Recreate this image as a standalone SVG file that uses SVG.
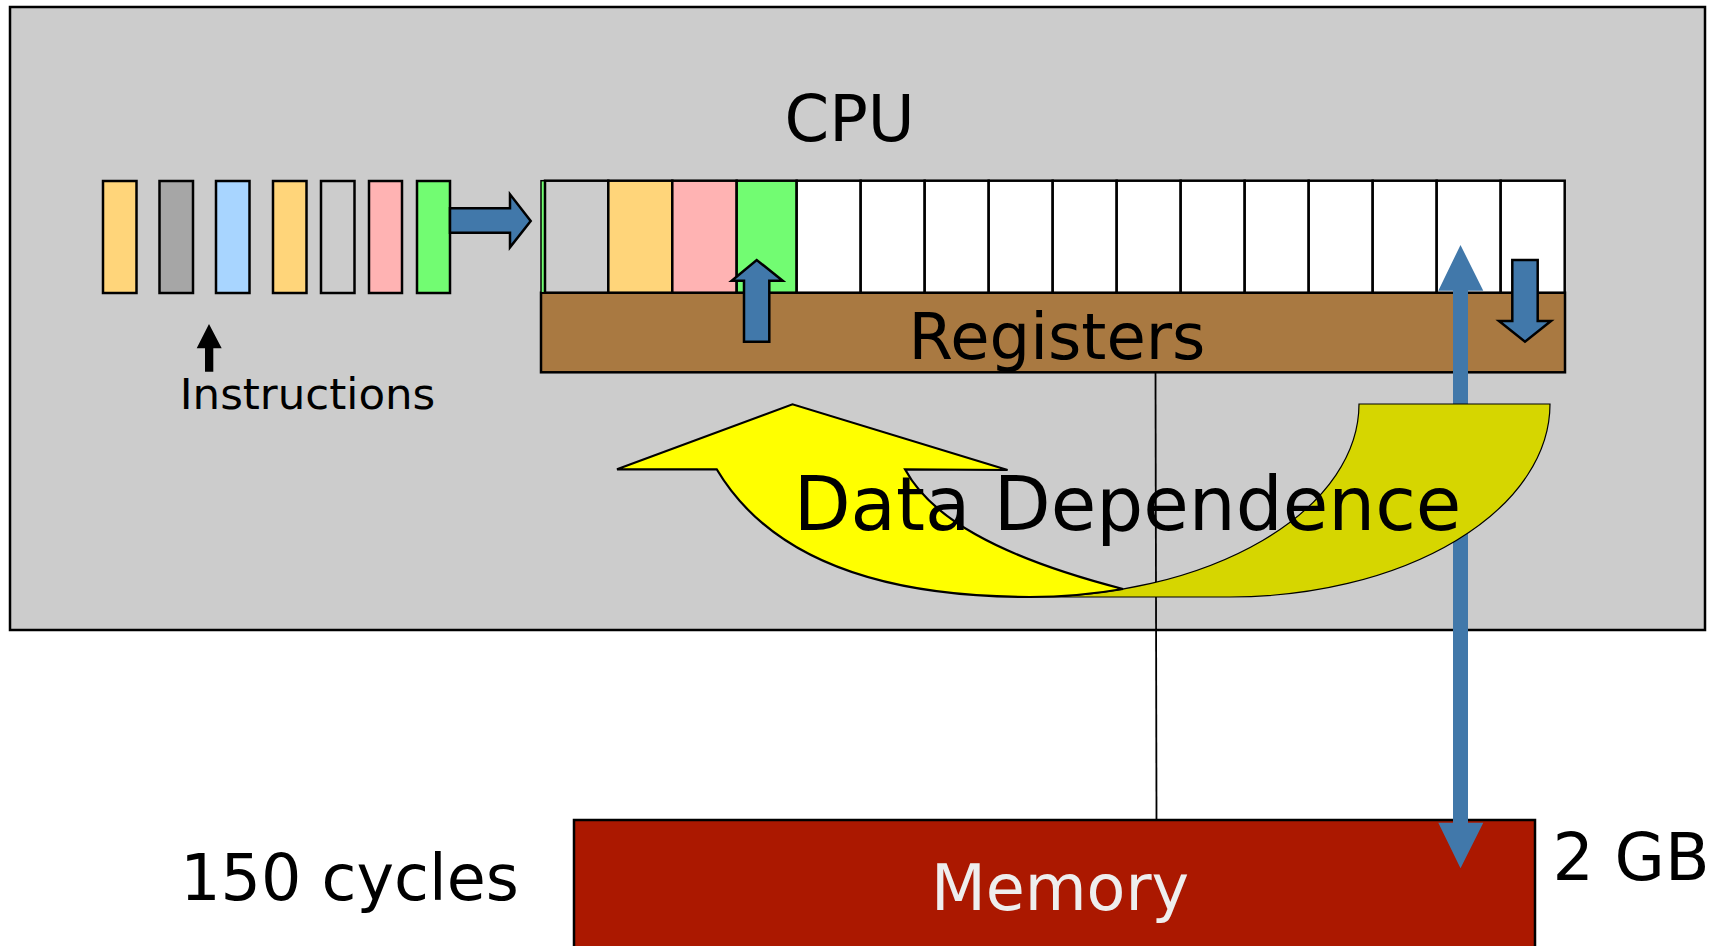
<svg xmlns="http://www.w3.org/2000/svg" width="1716" height="946" viewBox="0 0 1716 946">
<style>
text{font-family:"DejaVu Sans",Verdana,sans-serif;}
.ins{stroke:#000;stroke-width:2.5;}
.cell{stroke:#000;stroke-width:2.5;}
.blue{fill:#4178AA;stroke:#000;stroke-width:2.5;stroke-linejoin:miter;}
</style>
<rect width="1716" height="946" fill="#ffffff"/>
<g id="cpu">
<rect x="10" y="7" width="1695" height="623" fill="#cccccc" stroke="#000" stroke-width="2.5"/>
<text x="849.5" y="141" font-size="64" text-anchor="middle" fill="#000">CPU</text>
</g>
<g id="instructions">
<rect class="ins" x="103" y="181" width="33.5" height="112" fill="#FFD57A"/>
<rect class="ins" x="159.5" y="181" width="33.5" height="112" fill="#A6A6A6"/>
<rect class="ins" x="216" y="181" width="33.5" height="112" fill="#A8D5FF"/>
<rect class="ins" x="273" y="181" width="33.5" height="112" fill="#FFD57A"/>
<rect class="ins" x="321" y="181" width="33.5" height="112" fill="#CCCCCC"/>
<rect class="ins" x="369" y="181" width="33" height="112" fill="#FFB3B3"/>
<rect class="ins" x="417" y="181" width="33" height="112" fill="#72FC72"/>
<polygon points="205,371.7 205,348.3 196.7,348.3 209,324 221.7,348.3 213.3,348.3 213.3,371.7" fill="#000"/>
<text x="307.5" y="408.5" font-size="43.5" text-anchor="middle" fill="#000">Instructions</text>
</g>
<g id="registers">
<rect x="541" y="292.7" width="1024" height="79.6" fill="#A97941" stroke="#000" stroke-width="2.5"/>
<rect x="541" y="180.7" width="4" height="112" fill="#72FC72" stroke="#000" stroke-width="1.5"/>
<rect class="cell" x="545" y="180.7" width="63.3" height="112" fill="#CCCCCC"/>
<rect class="cell" x="608.3" y="180.7" width="64" height="112" fill="#FFD57A"/>
<rect class="cell" x="672.3" y="180.7" width="64.4" height="112" fill="#FFB3B3"/>
<rect class="cell" x="736.7" y="180.7" width="60" height="112" fill="#72FC72"/>
<rect class="cell" x="796.7" y="180.7" width="64" height="112" fill="#fff"/>
<rect class="cell" x="860.7" y="180.7" width="64" height="112" fill="#fff"/>
<rect class="cell" x="924.7" y="180.7" width="64" height="112" fill="#fff"/>
<rect class="cell" x="988.7" y="180.7" width="64" height="112" fill="#fff"/>
<rect class="cell" x="1052.7" y="180.7" width="64" height="112" fill="#fff"/>
<rect class="cell" x="1116.7" y="180.7" width="64" height="112" fill="#fff"/>
<rect class="cell" x="1180.7" y="180.7" width="64" height="112" fill="#fff"/>
<rect class="cell" x="1244.7" y="180.7" width="64" height="112" fill="#fff"/>
<rect class="cell" x="1308.7" y="180.7" width="64" height="112" fill="#fff"/>
<rect class="cell" x="1372.7" y="180.7" width="64" height="112" fill="#fff"/>
<rect class="cell" x="1436.7" y="180.7" width="64" height="112" fill="#fff"/>
<rect class="cell" x="1500.7" y="180.7" width="64" height="112" fill="#fff"/>
<text x="1057" y="359" font-size="64" text-anchor="middle" fill="#000">Registers</text>
</g>
<g id="memory">
<rect x="574" y="820" width="961" height="140" fill="#AB1800" stroke="#000" stroke-width="2.5"/>
<text x="1060" y="910" font-size="63.5" text-anchor="middle" fill="#EEEEEE">Memory</text>
<text x="1631" y="880" font-size="65" text-anchor="middle" fill="#000">2 GB</text>
<text x="349.5" y="899.5" font-size="63.5" text-anchor="middle" fill="#000">150 cycles</text>
</g>
<g id="connectors">
<line x1="1155.5" y1="372.3" x2="1156.5" y2="820" stroke="#000" stroke-width="1.8"/>
<polygon points="1453,290.7 1438.3,290.7 1460.5,245 1483.3,290.7 1468,290.7 1468,822.7 1483.3,822.7 1460.5,868.3 1438.3,822.7 1453,822.7" fill="#4178AA"/>
<polygon class="blue" points="450,208.3 510,208.3 510,194.3 530.7,221 510,247.3 510,232.7 450,232.7"/>
<polygon class="blue" points="744,341.7 744,280.7 731.7,280.7 756.7,260 782.7,280.7 769.3,280.7 769.3,341.7"/>
<polygon class="blue" points="1512.3,260 1537.7,260 1537.7,321 1551,321 1525,341.7 1499,321 1512.3,321"/>
</g>
<g id="data-dependence">
<path d="M1359,404 L1550,404 A320 193 0 0 1 1230,597 L1030,597 A329 193 0 0 0 1359,404 Z" fill="#D6D600" stroke="#000" stroke-width="1.2"/>
<path d="M716.7,469.3 L617,469.3 L792.5,404.3 L1007.6,470 L905,469.3 C930,516 995,556 1123,589 A329 193 0 0 1 1030,597 C850,597 760,542 716.7,469.3 Z" fill="#FFFF00" stroke="#000" stroke-width="2.2" stroke-linejoin="miter"/>
<text x="1127.5" y="530" font-size="74" text-anchor="middle" fill="#000">Data Dependence</text>
</g>
</svg>
